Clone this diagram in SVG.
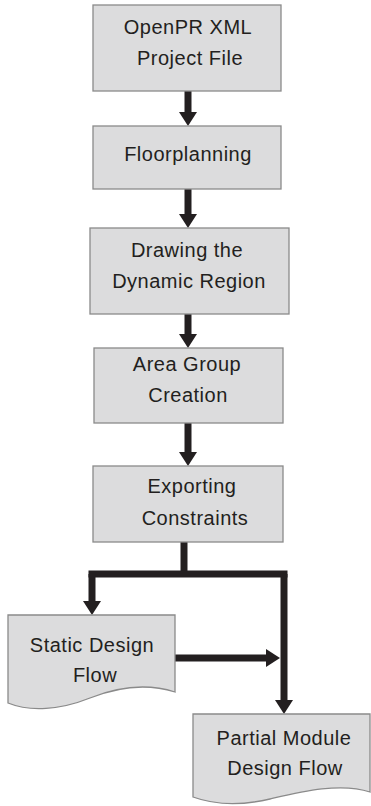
<svg xmlns="http://www.w3.org/2000/svg" width="371" height="806" viewBox="0 0 371 806">
<style>
.box{fill:#dcdcdd;stroke:#8a8a8a;stroke-width:1.3}
.t{font-family:"Liberation Sans",Arial,sans-serif;font-size:20px;fill:#231f20;text-anchor:middle;letter-spacing:0.5px}
.c{fill:none;stroke:#231f20;stroke-width:7}
</style>
<defs>
<marker id="ah" markerUnits="userSpaceOnUse" markerWidth="15" markerHeight="18" refX="1" refY="9" orient="auto" viewBox="0 0 15 18">
<path d="M0,0 L14,9 L0,18 Z" fill="#231f20"/>
</marker>
</defs>
<rect width="371" height="806" fill="#ffffff"/>
<g id="connectors">
<path class="c" d="M188,91 V113" marker-end="url(#ah)"/>
<path class="c" d="M188,189 V215" marker-end="url(#ah)"/>
<path class="c" d="M188,314 V335" marker-end="url(#ah)"/>
<path class="c" d="M188,423 V453" marker-end="url(#ah)"/>
<path class="c" d="M184,542 V574"/>
<path class="c" d="M88.5,574 H287.5"/>
<path class="c" d="M92,574 V602" marker-end="url(#ah)"/>
<path class="c" d="M284,574 V701" marker-end="url(#ah)"/>
<path class="c" d="M175,658 H267" marker-end="url(#ah)"/>
</g>
<g id="openpr">
<rect class="box" x="93" y="5" width="188" height="86"/>
<text class="t" x="188" y="34">OpenPR XML</text>
<text class="t" x="190" y="65">Project File</text>
</g>
<g id="floorplanning">
<rect class="box" x="93" y="126" width="188" height="63"/>
<text class="t" x="188" y="161">Floorplanning</text>
</g>
<g id="drawing">
<rect class="box" x="90" y="228" width="199" height="86"/>
<text class="t" x="187" y="257">Drawing the</text>
<text class="t" x="189" y="288">Dynamic Region</text>
</g>
<g id="areagroup">
<rect class="box" x="94" y="348" width="189" height="75"/>
<text class="t" x="187" y="371">Area Group</text>
<text class="t" x="188" y="402">Creation</text>
</g>
<g id="exporting">
<rect class="box" x="93" y="466" width="190" height="76"/>
<text class="t" x="192" y="493">Exporting</text>
<text class="t" x="195" y="525">Constraints</text>
</g>
<g id="static">
<path class="box" d="M8,615 H175 V692 C150,684 120,686 90,698 C60,710 30,712 8,703 Z"/>
<text class="t" x="92" y="652">Static Design</text>
<text class="t" x="95" y="682">Flow</text>
</g>
<g id="partial">
<path class="box" d="M193,714 H370 V792 C340,782 300,792 270,799 C240,806 215,805 193,797 Z"/>
<text class="t" x="284" y="745">Partial Module</text>
<text class="t" x="285" y="775">Design Flow</text>
</g>
</svg>
